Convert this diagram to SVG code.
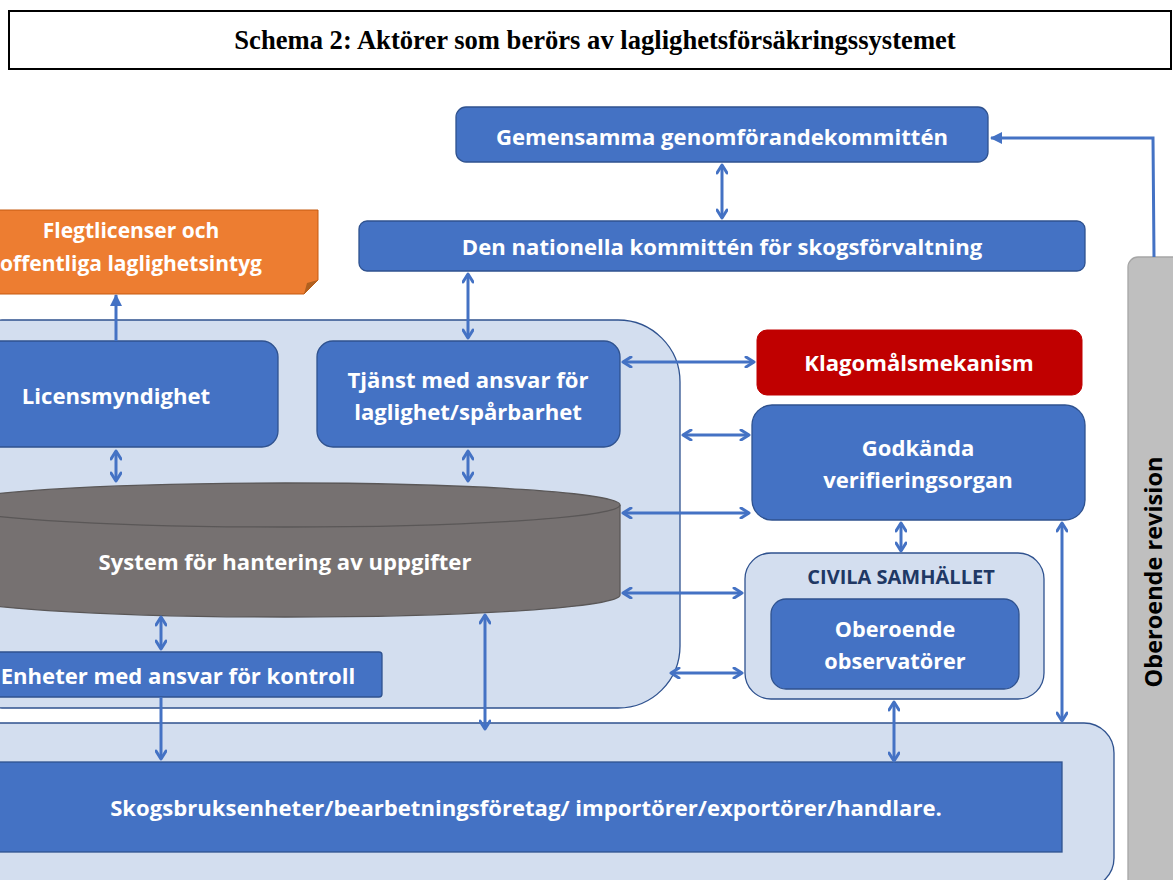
<svg xmlns="http://www.w3.org/2000/svg" width="1173" height="880" viewBox="0 0 1173 880">
<defs>
<style>
.t{font-family:"Open Sans","Liberation Sans",sans-serif;font-weight:bold;font-size:22.1px;fill:#fff;text-anchor:middle}
.blue{fill:#4472C4;stroke:#2F528F;stroke-width:1.3}
.cont{fill:#D3DEEF;stroke:#2F528F;stroke-width:1.3}
.c{fill:none;stroke:#4472C4;stroke-width:3}
.d{marker-start:url(#oa);marker-end:url(#oa)}
</style>
<marker id="oa" viewBox="0 0 12 12" refX="10" refY="6" markerWidth="12" markerHeight="12" markerUnits="userSpaceOnUse" orient="auto-start-reverse">
<path d="M2,1 L10,6 L2,11" fill="none" stroke="#4472C4" stroke-width="3" stroke-linecap="round" stroke-linejoin="round"/>
</marker>
<marker id="fa" viewBox="0 0 12 12" refX="11" refY="6" markerWidth="12" markerHeight="12" markerUnits="userSpaceOnUse" orient="auto">
<path d="M0,0 L12,6 L0,12 Z" fill="#4472C4"/>
</marker>
</defs>
<rect width="1173" height="880" fill="#fff"/>

<g id="title">
<rect x="9" y="11" width="1162" height="58" fill="#fff" stroke="#000" stroke-width="2"/>
<text x="595" y="49" font-family="Liberation Serif,serif" font-weight="bold" font-size="26.6" text-anchor="middle" fill="#000">Schema 2: Aktörer som berörs av laglighetsförsäkringssystemet</text>
</g>

<g id="container-main"><rect class="cont" x="-60" y="320" width="740" height="388" rx="62"/></g>
<g id="container-bottom"><rect class="cont" x="-60" y="723" width="1174" height="165" rx="30"/></g>

<g id="gemensamma">
<rect class="blue" x="456" y="107" width="532" height="55" rx="10"/>
<text class="t" x="722" y="145">Gemensamma genomförandekommittén</text>
</g>
<g id="nationella">
<rect class="blue" x="359" y="221" width="726" height="50" rx="8"/>
<text class="t" x="722" y="255">Den nationella kommittén för skogsförvaltning</text>
</g>
<g id="flegt">
<path d="M-10,210 L318,210 L318,280 L304,294 L-10,294 Z" fill="#ED7D31" stroke="#C55A11" stroke-width="1"/>
<path d="M304,294 L307,283 L318,280 Z" fill="#B0601F"/>
<text class="t" x="131" y="238" style="font-size:21px">Flegtlicenser och</text>
<text class="t" x="131" y="271" style="font-size:21px">offentliga laglighetsintyg</text>
</g>
<g id="licensmyndighet">
<rect class="blue" x="-40" y="341" width="318" height="106" rx="16"/>
<text class="t" x="116" y="404">Licensmyndighet</text>
</g>
<g id="tjanst">
<rect class="blue" x="317" y="341" width="303" height="106" rx="16"/>
<text class="t" x="468" y="388">Tjänst med ansvar för</text>
<text class="t" x="468" y="420">laglighet/spårbarhet</text>
</g>
<g id="system">
<path d="M620,505 L620,595 A335,22 0 0 1 -50,595 L-50,505 A335,22 0 0 1 620,505 Z" fill="#767171" stroke="#5A5757" stroke-width="1.3"/>
<path d="M-50,505 A335,22 0 0 0 620,505" fill="none" stroke="#5A5757" stroke-width="1.3"/>
<text class="t" x="285" y="570">System för hantering av uppgifter</text>
</g>
<g id="enheter">
<rect class="blue" x="-40" y="652" width="422" height="45" rx="3"/>
<text class="t" x="178" y="684">Enheter med ansvar för kontroll</text>
</g>
<g id="skogsbruk">
<rect class="blue" x="-40" y="762" width="1102" height="90"/>
<text class="t" x="526" y="816">Skogsbruksenheter/bearbetningsföretag/ importörer/exportörer/handlare.</text>
</g>
<g id="klagomal">
<rect x="757" y="330" width="325" height="65" rx="10" fill="#C00000" stroke="#C00000"/>
<text class="t" x="919" y="371">Klagomålsmekanism</text>
</g>
<g id="godkanda">
<rect class="blue" x="752" y="405" width="333" height="115" rx="20"/>
<text class="t" x="918" y="456">Godkända</text>
<text class="t" x="918" y="488">verifieringsorgan</text>
</g>
<g id="civila">
<rect class="cont" x="745" y="553" width="299" height="146" rx="26"/>
<text x="901" y="584" font-family="'Open Sans','Liberation Sans',sans-serif" font-weight="bold" font-size="20" fill="#203864" text-anchor="middle">CIVILA SAMHÄLLET</text>
</g>
<g id="observatorer">
<rect class="blue" x="771" y="599" width="248" height="90" rx="15"/>
<text class="t" x="895" y="637" style="font-size:21.7px">Oberoende</text>
<text class="t" x="895" y="669" style="font-size:21.7px">observatörer</text>
</g>
<g id="revision">
<rect x="1128" y="257" width="60" height="640" rx="10" fill="#BFBFBF" stroke="#A6A6A6" stroke-width="1.3"/>
<text transform="translate(1162,572) rotate(-90)" font-family="'Open Sans','Liberation Sans',sans-serif" font-weight="bold" font-size="23.5" fill="#000" text-anchor="middle">Oberoende revision</text>
</g>

<g id="connectors">
<polyline class="c" points="1154,257 1153,138 991,138" marker-end="url(#fa)"/>
<line class="c" x1="116" y1="341" x2="116" y2="295" marker-end="url(#fa)"/>
<line class="c d" x1="722" y1="165" x2="722" y2="218"/>
<line class="c d" x1="468" y1="274" x2="468" y2="338"/>
<line class="c d" x1="116" y1="451" x2="116" y2="481"/>
<line class="c d" x1="468" y1="451" x2="468" y2="481"/>
<line class="c d" x1="161" y1="617" x2="161" y2="649"/>
<line class="c" x1="161" y1="697" x2="161" y2="759" marker-end="url(#oa)"/>
<line class="c d" x1="485" y1="615" x2="485" y2="729"/>
<line class="c d" x1="623" y1="362" x2="754" y2="362"/>
<line class="c d" x1="683" y1="435" x2="749" y2="435"/>
<line class="c d" x1="623" y1="513" x2="749" y2="513"/>
<line class="c d" x1="623" y1="593" x2="742" y2="593"/>
<line class="c d" x1="671" y1="673" x2="742" y2="673"/>
<line class="c d" x1="901" y1="523" x2="901" y2="551"/>
<line class="c d" x1="894" y1="702" x2="894" y2="761"/>
<line class="c d" x1="1062" y1="523" x2="1062" y2="721"/>
</g>
</svg>
